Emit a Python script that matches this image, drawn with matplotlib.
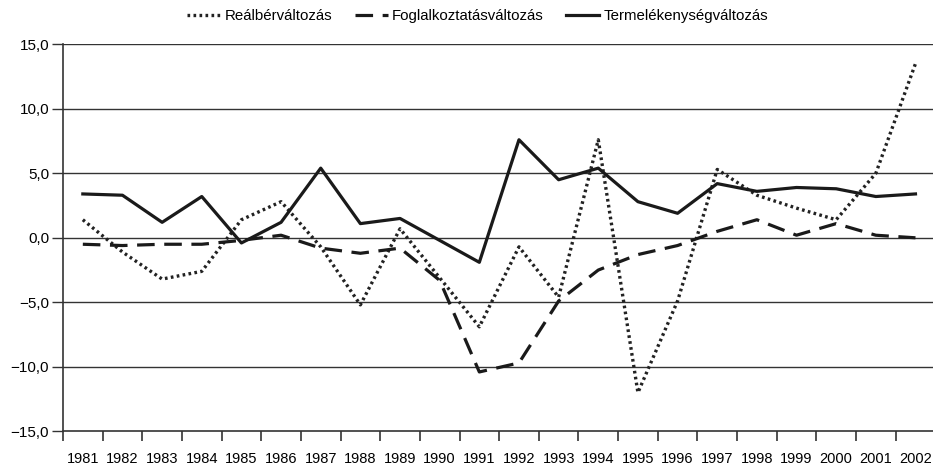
import matplotlib
matplotlib.use("Agg")
import matplotlib.pyplot as plt
from matplotlib.ticker import FixedLocator, FuncFormatter

plt.rcParams['font.family'] = ['Liberation Sans', 'DejaVu Sans']

# Adatok (évek és a három sorozat, %)
evek = [str(e) for e in range(1981, 2003)]
realber = [1.4, -1.1, -3.2, -2.6, 1.4, 2.8, -0.7, -5.2, 0.7, -3.1, -6.9,
           -0.7, -4.6, 7.6, -12.0, -4.9, 5.3, 3.3, 2.3, 1.4, 5.0, 13.5]
foglalkoztatas = [-0.5, -0.6, -0.5, -0.5, -0.2, 0.2, -0.8, -1.2, -0.8, -3.3, -10.4,
                  -9.7, -4.9, -2.5, -1.3, -0.6, 0.5, 1.4, 0.2, 1.1, 0.2, 0.0]
termelekenyseg = [3.4, 3.3, 1.2, 3.2, -0.4, 1.2, 5.4, 1.1, 1.5, -0.2, -1.9,
                  7.6, 4.5, 5.4, 2.8, 1.9, 4.2, 3.6, 3.9, 3.8, 3.2, 3.4]
y_ticks = [-15, -10, -5, 0, 5, 10, 15]

fig = plt.figure(figsize=(9.33, 4.69), dpi=100)
ax = fig.add_axes([63 / 933, 37.7 / 469, 872.3 / 933, 387 / 469])

x = list(range(len(evek)))
ax.plot(x, realber, color='#222222', lw=2.4, linestyle=(0, (0.8, 1.0)),
        dash_capstyle='butt', label='Reálbérváltozás')
ax.plot(x, foglalkoztatas, color='#1a1a1a', lw=2.3, linestyle=(0, (5.5, 3.0)),
        label='Foglalkoztatásváltozás')
ax.plot(x, termelekenyseg, color='#1a1a1a', lw=2.3, label='Termelékenységváltozás')

ax.set_xlim(-0.5, len(evek) - 0.5)
ax.set_ylim(-15, 15)

# vízszintes rácsvonalak
for v in y_ticks[1:]:
    ax.axhline(v, color='#333333', lw=1.0, zorder=0)

ax.yaxis.set_major_locator(FixedLocator(y_ticks))
ax.yaxis.set_major_formatter(FuncFormatter(
    lambda v, p: f"{v:.1f}".replace('.', ',').replace('-', '\u2212')))
ax.tick_params(axis='y', length=8, width=1.0, color='#333333', labelsize=11, pad=2)

# x tengely: osztásjelek a kategóriák között, feliratok középen
ax.xaxis.set_major_locator(FixedLocator([i - 0.5 for i in range(len(evek) + 1)]))
ax.xaxis.set_major_formatter(FuncFormatter(lambda v, p: ''))
ax.xaxis.set_minor_locator(FixedLocator(x))
ax.set_xticklabels(evek, minor=True)
ax.tick_params(axis='x', which='major', length=7, width=1.2, color='#333333', direction='out')
ax.tick_params(axis='x', which='minor', length=0, labelsize=10.5, pad=15)

for s in ['top', 'right']:
    ax.spines[s].set_visible(False)
ax.spines['left'].set_color('#333333')
ax.spines['bottom'].set_color('#333333')
ax.spines['left'].set_linewidth(1.2)
ax.spines['bottom'].set_linewidth(1.2)

fig.legend(loc='upper center', bbox_to_anchor=(0.512, 1.01), ncol=3, frameon=False,
           handlelength=2.2, columnspacing=1.5, handletextpad=0.3,
           prop={'size': 10.8})

fig.savefig("out.png", dpi=100)
